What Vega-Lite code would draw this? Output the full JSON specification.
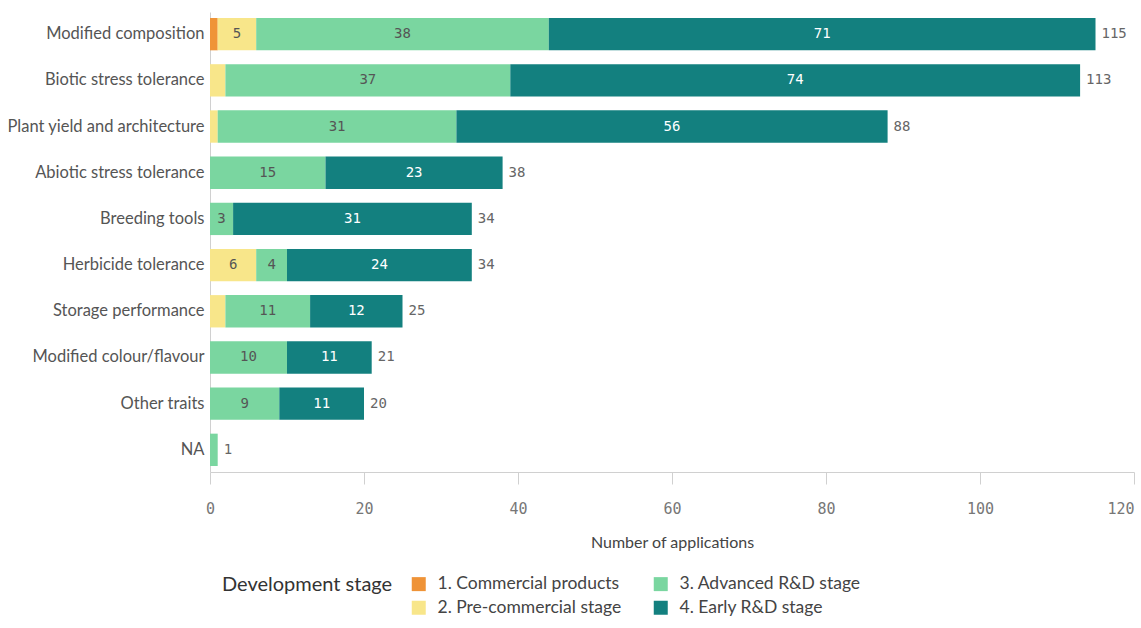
{
  "$schema": "https://vega.github.io/schema/vega-lite/v6.json",
  "autosize": {"type": "none"},
  "width": 924,
  "height": 460,
  "padding": {"left": 210, "top": 12, "right": 7, "bottom": 156},
  "config": {
    "view": {"stroke": null},
    "font": "Lato"
  },
  "data": {
    "values": [
      {"trait": "Modified composition", "stage": "1. Commercial products", "rank": 1, "value": 1},
      {"trait": "Modified composition", "stage": "2. Pre-commercial stage", "rank": 2, "value": 5},
      {"trait": "Modified composition", "stage": "3. Advanced R&D stage", "rank": 3, "value": 38},
      {"trait": "Modified composition", "stage": "4. Early R&D stage", "rank": 4, "value": 71},
      {"trait": "Biotic stress tolerance", "stage": "2. Pre-commercial stage", "rank": 2, "value": 2},
      {"trait": "Biotic stress tolerance", "stage": "3. Advanced R&D stage", "rank": 3, "value": 37},
      {"trait": "Biotic stress tolerance", "stage": "4. Early R&D stage", "rank": 4, "value": 74},
      {"trait": "Plant yield and architecture", "stage": "2. Pre-commercial stage", "rank": 2, "value": 1},
      {"trait": "Plant yield and architecture", "stage": "3. Advanced R&D stage", "rank": 3, "value": 31},
      {"trait": "Plant yield and architecture", "stage": "4. Early R&D stage", "rank": 4, "value": 56},
      {"trait": "Abiotic stress tolerance", "stage": "3. Advanced R&D stage", "rank": 3, "value": 15},
      {"trait": "Abiotic stress tolerance", "stage": "4. Early R&D stage", "rank": 4, "value": 23},
      {"trait": "Breeding tools", "stage": "3. Advanced R&D stage", "rank": 3, "value": 3},
      {"trait": "Breeding tools", "stage": "4. Early R&D stage", "rank": 4, "value": 31},
      {"trait": "Herbicide tolerance", "stage": "2. Pre-commercial stage", "rank": 2, "value": 6},
      {"trait": "Herbicide tolerance", "stage": "3. Advanced R&D stage", "rank": 3, "value": 4},
      {"trait": "Herbicide tolerance", "stage": "4. Early R&D stage", "rank": 4, "value": 24},
      {"trait": "Storage performance", "stage": "2. Pre-commercial stage", "rank": 2, "value": 2},
      {"trait": "Storage performance", "stage": "3. Advanced R&D stage", "rank": 3, "value": 11},
      {"trait": "Storage performance", "stage": "4. Early R&D stage", "rank": 4, "value": 12},
      {"trait": "Modified colour/flavour", "stage": "3. Advanced R&D stage", "rank": 3, "value": 10},
      {"trait": "Modified colour/flavour", "stage": "4. Early R&D stage", "rank": 4, "value": 11},
      {"trait": "Other traits", "stage": "3. Advanced R&D stage", "rank": 3, "value": 9},
      {"trait": "Other traits", "stage": "4. Early R&D stage", "rank": 4, "value": 11},
      {"trait": "NA", "stage": "3. Advanced R&D stage", "rank": 3, "value": 1}
    ]
  },
  "transform": [
    {"stack": "value", "groupby": ["trait"], "sort": [{"field": "rank", "order": "ascending"}], "as": ["x0", "x1"]},
    {"calculate": "(datum.x0 + datum.x1) / 2", "as": "xmid"}
  ],
  "encoding": {
    "y": {
      "field": "trait",
      "type": "nominal",
      "sort": ["Modified composition", "Biotic stress tolerance", "Plant yield and architecture", "Abiotic stress tolerance", "Breeding tools", "Herbicide tolerance", "Storage performance", "Modified colour/flavour", "Other traits", "NA"],
      "scale": {"paddingInner": 0.3, "paddingOuter": 0.13},
      "axis": {
        "title": null,
        "ticks": false,
        "domain": true,
        "domainColor": "#d0d0d0",
        "labelFont": "Lato",
        "labelFontSize": 16.5,
        "labelColor": "#555555",
        "labelPadding": 6,
        "labelLimit": 0
      }
    }
  },
  "layer": [
    {
      "mark": {"type": "bar"},
      "encoding": {
        "x": {
          "field": "x0",
          "type": "quantitative",
          "scale": {"domain": [0, 120], "nice": false},
          "axis": {
            "values": [0, 20, 40, 60, 80, 100, 120],
            "grid": false,
            "domainColor": "#d0d0d0",
            "tickColor": "#d0d0d0",
            "tickSize": 12,
            "labelFont": "DejaVu Sans Mono",
            "labelFontSize": 15,
            "labelColor": "#777777",
            "labelPadding": 17,
            "labelAlign": {"expr": "datum.value == 120 ? 'right' : 'center'"},
            "labelBound": false,
            "title": "Number of applications",
            "titleFont": "Lato",
            "titleFontSize": 16,
            "titleFontWeight": "normal",
            "titleColor": "#444444",
            "titlePadding": 18
          }
        },
        "x2": {"field": "x1"},
        "color": {
          "field": "stage",
          "type": "nominal",
          "scale": {
            "domain": ["1. Commercial products", "3. Advanced R&D stage", "2. Pre-commercial stage", "4. Early R&D stage"],
            "range": ["#ef9337", "#7ad6a0", "#f8e68a", "#13807f"]
          },
          "legend": {
            "title": "Development stage",
            "orient": "none",
            "legendX": 12,
            "legendY": 563,
            "direction": "horizontal",
            "columns": 2,
            "titleOrient": "left",
            "titleAnchor": "start",
            "titleBaseline": "top",
            "titleFont": "Lato",
            "titleFontSize": 20,
            "titleFontWeight": "normal",
            "titleColor": "#333333",
            "titlePadding": 17,
            "labelFont": "Lato",
            "labelFontSize": 17.5,
            "labelColor": "#444444",
            "labelLimit": 0,
            "symbolType": "square",
            "symbolSize": 196,
            "symbolStrokeWidth": 0,
            "labelOffset": 10,
            "rowPadding": 5,
            "columnPadding": 30
          }
        }
      }
    },
    {
      "transform": [{"filter": "datum.value >= 3"}],
      "mark": {"type": "text", "font": "DejaVu Sans Mono", "fontSize": 14, "align": "center", "baseline": "middle"},
      "encoding": {
        "x": {"field": "xmid", "type": "quantitative"},
        "text": {"field": "value", "type": "quantitative"},
        "color": {
          "condition": {"test": "datum.rank == 4", "value": "#ffffff"},
          "value": "#555555"
        }
      }
    },
    {
      "transform": [
        {"aggregate": [{"op": "sum", "field": "value", "as": "total"}], "groupby": ["trait"]}
      ],
      "mark": {"type": "text", "font": "DejaVu Sans Mono", "fontSize": 14, "align": "left", "baseline": "middle", "dx": 6, "color": "#666666"},
      "encoding": {
        "x": {"field": "total", "type": "quantitative"},
        "text": {"field": "total", "type": "quantitative"}
      }
    }
  ]
}
